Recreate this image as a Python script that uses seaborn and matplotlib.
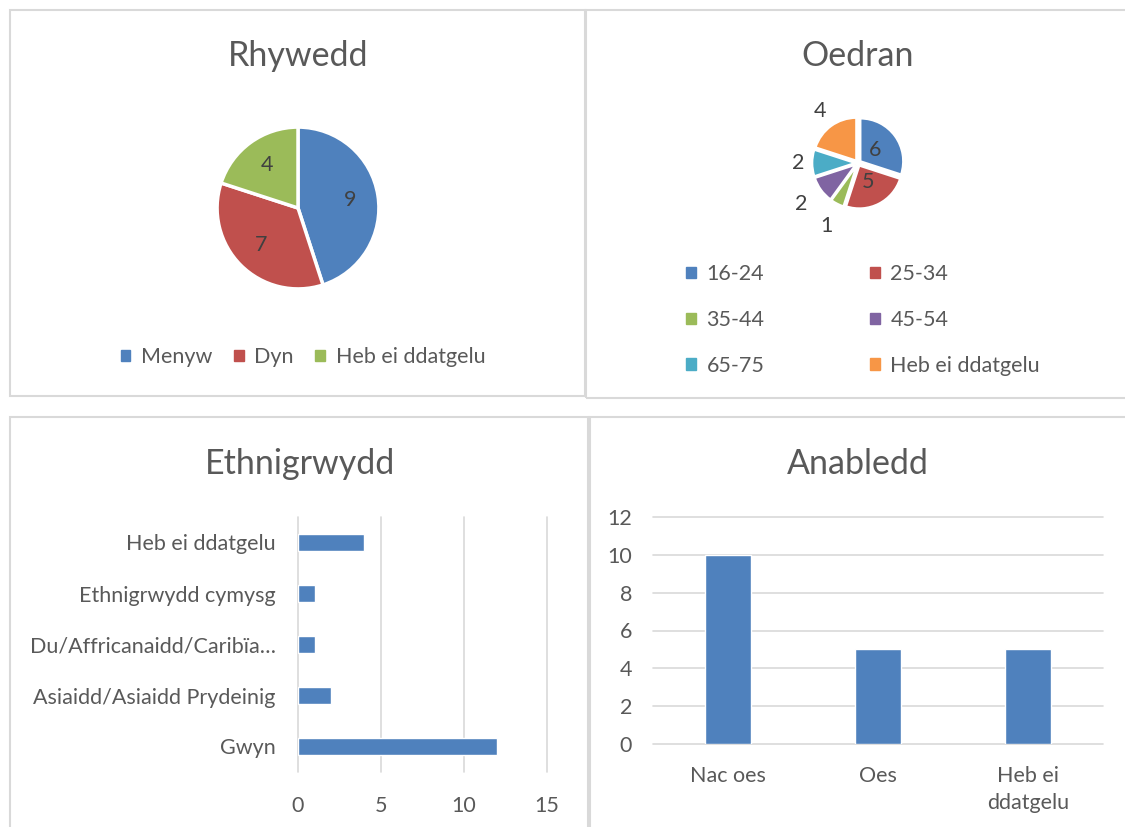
import numpy as np
import seaborn as sns
import matplotlib.pyplot as plt
from matplotlib.patches import Rectangle, Patch

# data
rhywedd_labels = ["Menyw", "Dyn", "Heb ei ddatgelu"]
rhywedd_values = [9, 7, 4]

oedran_labels = ["16-24", "25-34", "35-44", "45-54", "65-75", "Heb ei ddatgelu"]
oedran_values = [6, 5, 1, 2, 2, 4]
oedran_label_dist = [0.5, 0.5, 1.65, 1.65, 1.4, 1.5]

ethnig_labels = ["Heb ei ddatgelu", "Ethnigrwydd cymysg", "Du/Affricanaidd/Caribïa…",
                 "Asiaidd/Asiaidd Prydeinig", "Gwyn"]
ethnig_values = [4, 1, 1, 2, 12]

anabledd_labels = ["Nac oes", "Oes", "Heb ei\nddatgelu"]
anabledd_values = [10, 5, 5]

colors = ["#4F81BD", "#C0504D", "#9BBB59", "#8064A2", "#4BACC6", "#F79646"]
TXT = "#595959"
GRID = "#D9D9D9"
FS = 15.5

sns.set_theme(style="white")
plt.rcParams['font.family'] = ['Lato', 'DejaVu Sans']
plt.rcParams['text.color'] = TXT
plt.rcParams['xtick.color'] = TXT
plt.rcParams['ytick.color'] = TXT

W, H = 1125, 827
fig = plt.figure(figsize=(W / 100, H / 100), dpi=100)


def box(x0, y0, x1, y1):
    # pixel box (top-left origin) -> figure fraction rect
    return [x0 / W, 1 - y1 / H, (x1 - x0) / W, (y1 - y0) / H]


# panel frames
for x0, y0, x1, y1 in [(10, 10, 585, 396), (586, 10, 1140, 398),
                       (10, 417, 588, 840), (590, 417, 1140, 840)]:
    r = box(x0, y0, x1, y1)
    fig.patches.append(Rectangle((r[0], r[1]), r[2], r[3], transform=fig.transFigure,
                                 fill=False, edgecolor=GRID, linewidth=1.5))

# titles
for txt, x, y in [("Rhywedd", 298, 56), ("Oedran", 858, 56),
                  ("Ethnigrwydd", 300, 464), ("Anabledd", 858, 464)]:
    fig.text(x / W, 1 - y / H, txt, ha='center', va='center', fontsize=24.5, color=TXT)

# Rhywedd pie
ax = fig.add_axes(box(209, 119, 387, 297))
wedges, _ = ax.pie(rhywedd_values, colors=colors[:3], startangle=90, counterclock=False,
                   wedgeprops=dict(edgecolor='white', linewidth=2.5))
for w, v in zip(wedges, rhywedd_values):
    ang = np.deg2rad((w.theta1 + w.theta2) / 2)
    ax.text(0.65 * np.cos(ang), 0.65 * np.sin(ang), str(v), ha='center', va='center',
            fontsize=FS, color='#404040')
ax.set_xlim(-1.1, 1.1)
ax.set_ylim(-1.1, 1.1)

fig.legend(handles=[Patch(color=c, label=l) for c, l in zip(colors, rhywedd_labels)],
           loc='center', bbox_to_anchor=(303 / W, 1 - 357 / H), ncol=3, frameon=False,
           fontsize=FS, handlelength=0.45, handleheight=0.45, handletextpad=0.5,
           columnspacing=1.0)

# Oedran pie
ax = fig.add_axes(box(811, 116, 905, 210))
wedges, _ = ax.pie(oedran_values, colors=colors, startangle=90, counterclock=False,
                   explode=[0.07] * len(oedran_values),
                   wedgeprops=dict(edgecolor='white', linewidth=1.5))
for w, v, d in zip(wedges, oedran_values, oedran_label_dist):
    ang = np.deg2rad((w.theta1 + w.theta2) / 2)
    ax.text(d * np.cos(ang), d * np.sin(ang), str(v), ha='center', va='center',
            fontsize=FS, color='#404040')
ax.set_xlim(-1.1, 1.1)
ax.set_ylim(-1.1, 1.1)

# legend fills row by row like Excel
handles = [Patch(color=c, label=l) for c, l in zip(colors, oedran_labels)]
order = [0, 2, 4, 1, 3, 5]
fig.legend(handles=[handles[i] for i in order],
           loc='center', bbox_to_anchor=(863 / W, 1 - 320 / H), ncol=2, frameon=False,
           fontsize=FS, handlelength=0.45, handleheight=0.45, handletextpad=0.5,
           labelspacing=1.2, columnspacing=4.9)

# Ethnigrwydd horizontal bars
ax = fig.add_axes(box(298, 517, 547, 772))
sns.barplot(x=ethnig_values, y=ethnig_labels, orient='h', color=colors[0], saturation=1,
            width=0.35, ax=ax)
ax.set_xlim(0, 15)
ax.set_xticks([0, 5, 10, 15])
ax.set_ylim(4.5, -0.5)
ax.grid(axis='x', color=GRID, linewidth=1.2)
ax.set_axisbelow(True)
for l in ax.get_xgridlines():
    l.set_clip_on(False)
sns.despine(ax=ax, left=True, bottom=True)
ax.tick_params(axis='x', length=0, pad=17, labelsize=FS)
ax.tick_params(axis='y', length=0, pad=16, labelsize=FS)
ax.set_xlabel("")
ax.set_ylabel("")

# Anabledd vertical bars
ax = fig.add_axes(box(653, 517, 1103, 744))
sns.barplot(x=anabledd_labels, y=anabledd_values, color=colors[0], saturation=1,
            width=0.31, ax=ax)
ax.set_ylim(0, 12)
ax.set_yticks(range(0, 13, 2))
ax.grid(axis='y', color=GRID, linewidth=1.2)
ax.set_axisbelow(True)
for l in ax.get_ygridlines():
    l.set_clip_on(False)
sns.despine(ax=ax, left=True, bottom=True)
ax.tick_params(axis='x', length=0, pad=16, labelsize=FS)
ax.tick_params(axis='y', length=0, pad=15, labelsize=FS)
for t in ax.get_xticklabels():
    t.set_linespacing(1.45)
ax.set_xlabel("")
ax.set_ylabel("")

fig.savefig("out.png", dpi=100)
